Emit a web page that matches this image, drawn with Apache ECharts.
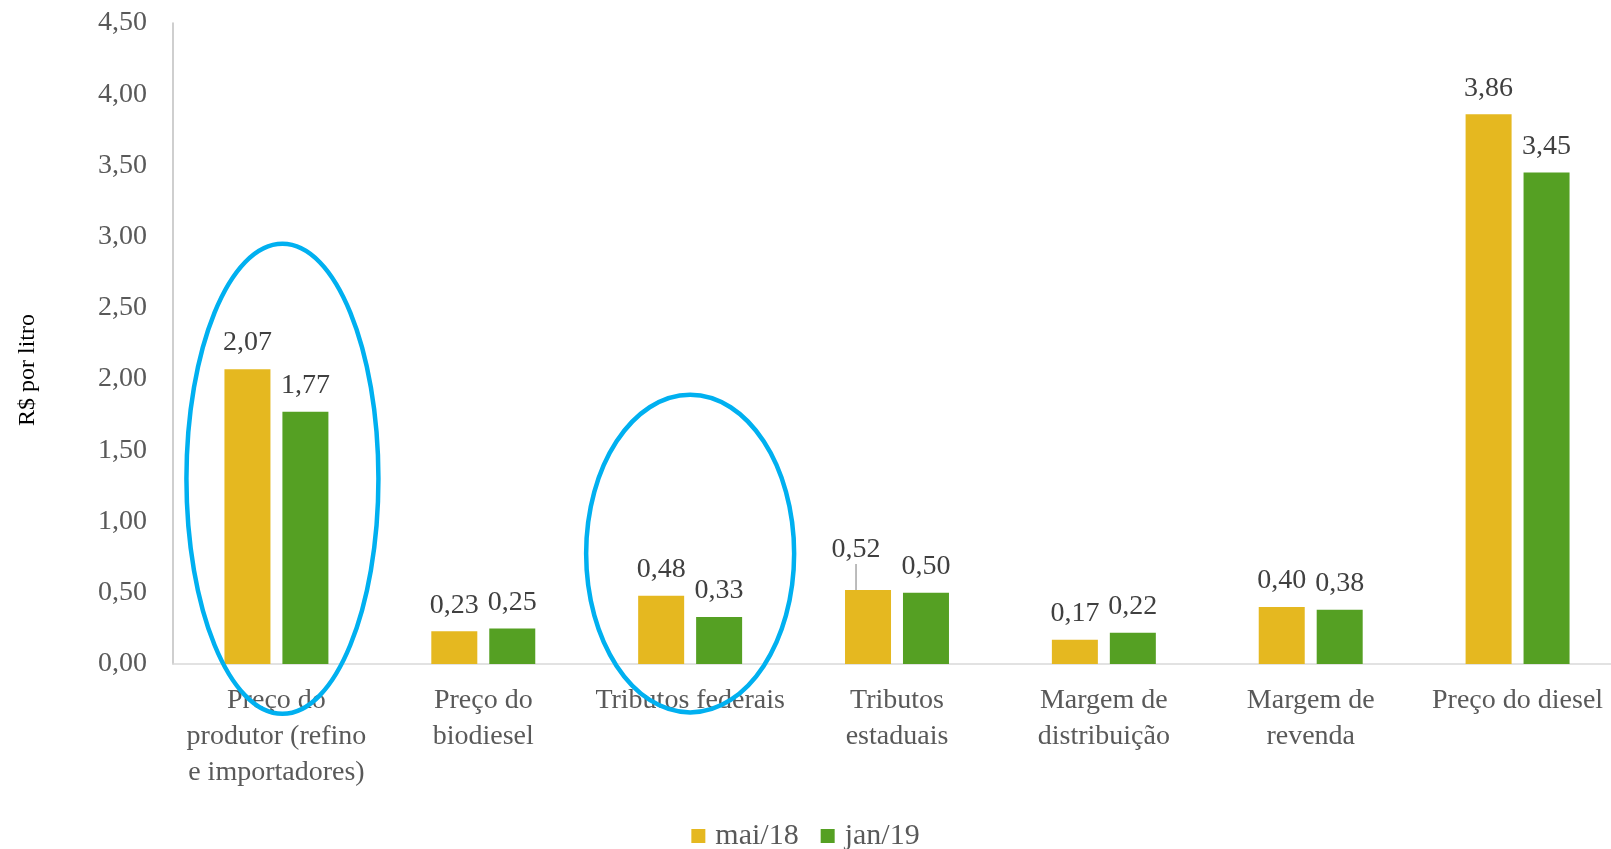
<!DOCTYPE html>
<html>
<head>
<meta charset="utf-8">
<script src="https://cdn.jsdelivr.net/npm/echarts@6/dist/echarts.min.js"></script>
<style>html,body{margin:0;padding:0;background:#fff}#c{width:1611px;height:849px}</style>
</head>
<body>
<div id="c"></div>
<script>
var categories = ["Preço do\nprodutor (refino\ne importadores)", "Preço do\nbiodiesel", "Tributos federais", "Tributos\nestaduais", "Margem de\ndistribuição", "Margem de\nrevenda", "Preço do diesel"];
var seriesNames = ["mai/18", "jan/19"];
var mai18 = [2.07, 0.23, 0.48, 0.52, 0.17, 0.40, 3.86];
var jan19 = [1.77, 0.25, 0.33, 0.50, 0.22, 0.38, 3.45];
var yTicks = [0, 0.5, 1, 1.5, 2, 2.5, 3, 3.5, 4, 4.5];

var FONT = "Liberation Serif";
function fmt(v){ return v.toFixed(2).replace('.', ','); }

var chart = echarts.init(document.getElementById('c'));
var labelCommon = {show:true, position:'top', distance:12, fontFamily:FONT, fontSize:28, color:'#404040', formatter:function(p){return fmt(p.value);}};
var maiData = mai18.map(function(v, i){
  return i === 3 ? {value:v, labelLine:{show:true, lineStyle:{color:'#a6a6a6', width:1.5}}} : {value:v};
});
chart.setOption({
  animation:false,
  grid:{left:173, width:1448, top:23, bottom:185, outerBoundsMode:'none'},
  legend:{top:816, left:'center', itemWidth:14, itemHeight:14, itemGap:22, icon:'rect',
    textStyle:{fontFamily:FONT, fontSize:30, color:'#595959', padding:[0,0,0,5]}, data:seriesNames},
  xAxis:{type:'category', data:categories,
    axisLine:{lineStyle:{color:'#d9d9d9', width:1.5}}, axisTick:{show:false},
    axisLabel:{fontFamily:FONT, fontSize:28, color:'#595959', lineHeight:36, margin:19, interval:0}},
  yAxis:{type:'value', min:0, max:4.5, interval:0.5,
    axisLine:{show:true, lineStyle:{color:'#bfbfbf', width:1.5}}, axisTick:{show:false}, splitLine:{show:false},
    axisLabel:{fontFamily:FONT, fontSize:28, color:'#595959', margin:26, formatter:function(v){return fmt(v);}}},
  series:[
    {name:seriesNames[0], type:'bar', data:maiData, barWidth:46, barGap:'26%', itemStyle:{color:'#E5B820'},
     label:labelCommon,
     labelLine:{show:false},
     labelLayout:function(p){ if(p.dataIndex===3){ return {dx:-12, dy:-14}; } return {}; }},
    {name:seriesNames[1], type:'bar', data:jan19, barWidth:46, itemStyle:{color:'#55A023'},
     label:labelCommon}
  ]
});

function ell(ci, off, rxPx, yTop, yBot){
  var c = chart.convertToPixel({xAxisIndex:0, yAxisIndex:0}, [ci, 0]);
  var t = chart.convertToPixel({yAxisIndex:0}, yTop);
  var b = chart.convertToPixel({yAxisIndex:0}, yBot);
  return {type:'ellipse', shape:{cx:c[0]+off, cy:(t+b)/2, rx:rxPx, ry:Math.abs(b-t)/2},
    style:{fill:null, stroke:'#00B0F0', lineWidth:4.5}, z:10};
}
chart.setOption({graphic:[
  ell(0, 6, 96, 2.95, -0.35),
  ell(2, 0, 104, 1.89, -0.34),
  {type:'text', x:28, y:370, rotation:Math.PI/2,
   style:{text:'R$ por litro', font:'24px "Liberation Serif"', fill:'#000', align:'center', verticalAlign:'middle'}}
]});
</script>
</body>
</html>
